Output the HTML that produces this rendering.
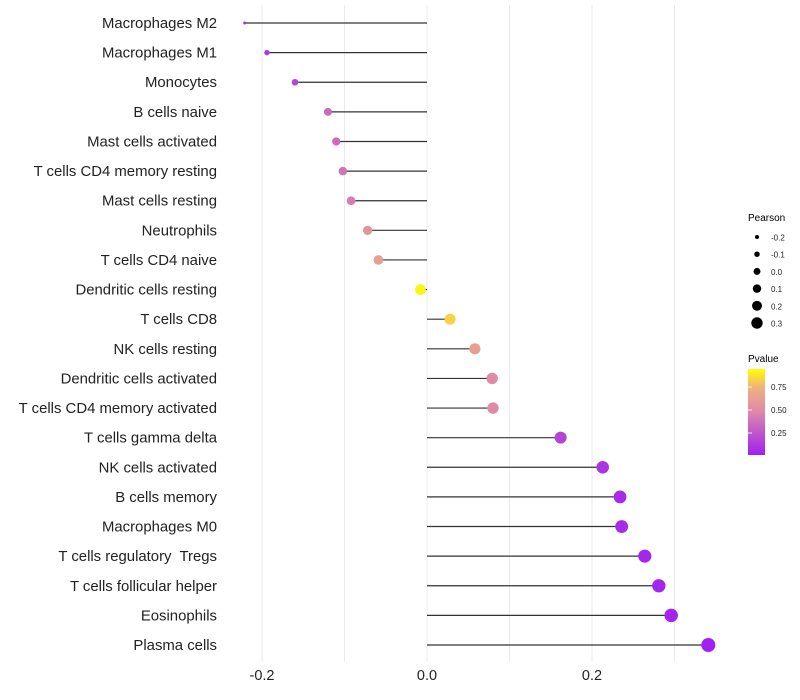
<!DOCTYPE html>
<html><head><meta charset="utf-8"><style>
body{margin:0;background:#fff;}
svg{display:block;font-family:"Liberation Sans",sans-serif;}
text{white-space:pre;}
</style></head><body>
<svg id="chart" width="800" height="700">
<defs><linearGradient id="pg" x1="0" y1="1" x2="0" y2="0">
<stop offset="0" stop-color="#a020f0"/><stop offset="0.5" stop-color="#dd88aa"/><stop offset="0.78" stop-color="#f0b080"/><stop offset="1" stop-color="#ffff00"/>
</linearGradient></defs>
<g id="grid"></g><g id="marks"></g><g id="ylabels"></g><g id="xticks"></g>
<g id="legend">
<text x="748" y="221" font-size="10">Pearson</text>
<text x="748" y="362" font-size="10">Pvalue</text>
<rect x="748" y="369" width="17" height="86" fill="url(#pg)"/>
</g>
</svg>
<script>
const categories=["Macrophages M2","Macrophages M1","Monocytes","B cells naive","Mast cells activated","T cells CD4 memory resting","Mast cells resting","Neutrophils","T cells CD4 naive","Dendritic cells resting","T cells CD8","NK cells resting","Dendritic cells activated","T cells CD4 memory activated","T cells gamma delta","NK cells activated","B cells memory","Macrophages M0","T cells regulatory  Tregs","T cells follicular helper","Eosinophils","Plasma cells"];
const pearson=[-0.221,-0.194,-0.160,-0.120,-0.110,-0.102,-0.092,-0.072,-0.059,-0.008,0.028,0.058,0.079,0.080,0.162,0.213,0.234,0.236,0.264,0.281,0.296,0.341];
const pvalues=[0.08,0.12,0.18,0.35,0.36,0.40,0.44,0.58,0.66,0.97,0.88,0.66,0.52,0.52,0.18,0.10,0.06,0.06,0.04,0.03,0.02,0.01];
const xTicks=[-0.2,0,0.2];
const xTickLabels=["-0.2","0.0","0.2"];
const minorGrid=[-0.1,0.1,0.3];
const sizeLegend=[-0.2,-0.1,0.0,0.1,0.2,0.3];
const pLegend=[0.25,0.5,0.75];
const NS="http://www.w3.org/2000/svg";
const xs=v=>427+v*825;
const ys=i=>23+i*(622/21);
// size scale (radius as a function of pearson value)
const sizeScaleDomain=[-0.221,-0.194,-0.16,-0.12,-0.06,0,0.16,0.34];
const sizeScaleRange=[1.5,2.7,3.3,4,4.8,5.4,6,7];
function rs(v){
 const d=sizeScaleDomain,r=sizeScaleRange;
 if(v<=d[0])return r[0];
 for(let k=1;k<d.length;k++){if(v<=d[k]){const t=(v-d[k-1])/(d[k]-d[k-1]);return r[k-1]+(r[k]-r[k-1])*t;}}
 return r[r.length-1]+(v-d[d.length-1])*5;
}
function col(p){
 const stops=[[0,[160,32,240]],[0.5,[221,136,170]],[0.78,[240,176,128]],[1,[255,255,0]]];
 for(let k=1;k<stops.length;k++){if(p<=stops[k][0]){const a=stops[k-1],b=stops[k];const t=(p-a[0])/(b[0]-a[0]);return "rgb("+a[1].map((c,j)=>Math.round(c+(b[1][j]-c)*t)).join(",")+")";}}
 return "rgb(255,255,0)";
}
function mk(tag,attrs,parent){const e=document.createElementNS(NS,tag);for(const k in attrs)e.setAttribute(k,attrs[k]);document.getElementById(parent).appendChild(e);return e;}
xTicks.concat(minorGrid).forEach(v=>{
 const l=mk("line",{x1:xs(v),x2:xs(v),y1:5,y2:662,stroke:"#ebebeb","stroke-width":1},"grid");
 
 
});
xTicks.forEach((v,i)=>{
 const t=mk("text",{x:xs(v),y:680,"font-size":14.5,"text-anchor":"middle",fill:"#222"},"xticks");
 t.textContent=xTickLabels[i];
 
 
});
categories.forEach((c,i)=>{
 const y=ys(i);
 const t=mk("text",{x:217,y:y+5,"font-size":14.9,"text-anchor":"end",fill:"#222"},"ylabels");
 t.textContent=c;
 
 
 const l=mk("line",{x1:xs(0),x2:xs(pearson[i]),y1:y,y2:y,stroke:"#333","stroke-width":1.2},"marks");
 
 
 const d=mk("circle",{cx:xs(pearson[i]),cy:y,r:rs(pearson[i]),fill:col(pvalues[i])},"marks");
 
 
});
sizeLegend.forEach((v,i)=>{
 const y=237+i*17.2;
 const d=mk("circle",{cx:757,cy:y,r:2+(v+0.2)*7.4,fill:"#000"},"legend");
 
 
 const t=mk("text",{x:771,y:y+3.5,"font-size":8,fill:"#222"},"legend");
 t.textContent=v.toFixed(1).replace("-0.0","0.0");
 
 
});
pLegend.forEach(p=>{
 const y=456-p*92;
 const l=mk("line",{x1:748,x2:752,y1:y,y2:y,stroke:"#fff","stroke-width":0.8},"legend");
 
 
 const t=mk("text",{x:771,y:y+3,"font-size":8,fill:"#222"},"legend");
 t.textContent=p.toFixed(2);
 
 
});
</script>
</body></html>
